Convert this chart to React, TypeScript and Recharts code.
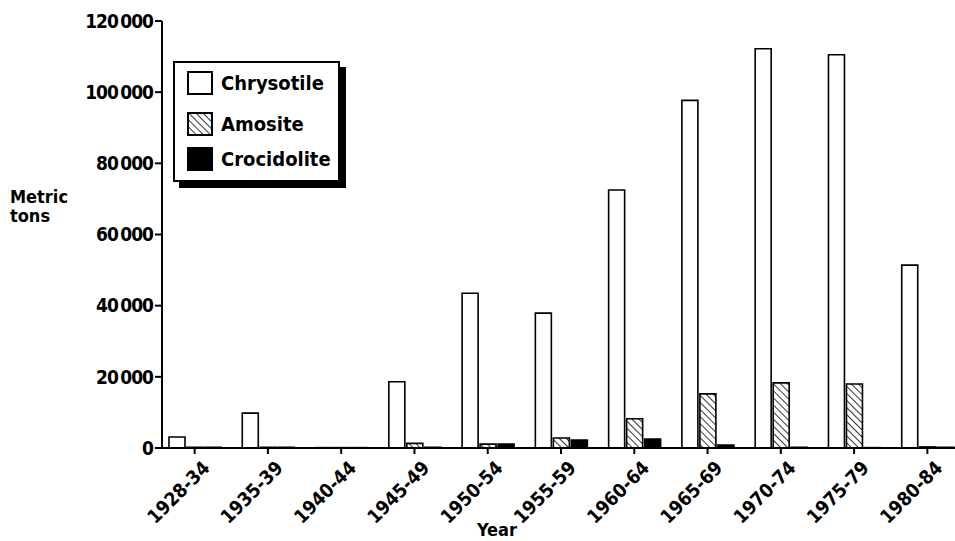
import React from 'react';
import { BarChart, Bar, XAxis, YAxis } from 'recharts';

const PERIODS = [
  '1928-34', '1935-39', '1940-44', '1945-49', '1950-54', '1955-59',
  '1960-64', '1965-69', '1970-74', '1975-79', '1980-84',
];
const CHRYSOTILE = [3100, 9800, 100, 18600, 43500, 37900, 72500, 97700, 112200, 110500, 51400];
const AMOSITE = [200, 200, 100, 1300, 1100, 2800, 8200, 15200, 18300, 18000, 300];
const CROCIDOLITE = [200, 200, 100, 200, 1100, 2200, 2500, 800, 200, 100, 200];
const Y_TICKS = [0, 20000, 40000, 60000, 80000, 100000, 120000];

const SERIES = [
  { key: 'chrysotile', name: 'Chrysotile', fill: '#fff' },
  { key: 'amosite', name: 'Amosite', fill: 'url(#hatch)' },
  { key: 'crocidolite', name: 'Crocidolite', fill: '#000' },
];

const data = PERIODS.map((period, i) => ({
  period,
  chrysotile: CHRYSOTILE[i],
  amosite: AMOSITE[i],
  crocidolite: CROCIDOLITE[i],
}));

const FONT = '"DejaVu Sans Condensed", "DejaVu Sans", sans-serif';

const fmt = (v: number) => {
  if (v === 0) return '0';
  const s = String(v);
  return s.slice(0, -3) + '\u2009' + s.slice(-3);
};

const XTick = (props: any) => {
  const { x, y, payload } = props;
  return (
    <g transform={`translate(${x + 7},${y + 4})`}>
      <text
        textAnchor="end"
        transform="rotate(-45)"
        fontFamily={FONT}
        fontWeight="bold"
        fontSize={19}
        fill="#000"
        dy={13}
      >
        {payload.value}
      </text>
    </g>
  );
};

const YLabel = () => (
  <text fontFamily={FONT} fontWeight="bold" fontSize={18} fill="#000">
    <tspan x={10} y={203}>Metric</tspan>
    <tspan x={10} y={222}>tons</tspan>
  </text>
);

const XLabel = () => (
  <text x={497} y={536} textAnchor="middle" fontFamily={FONT} fontWeight="bold" fontSize={18} fill="#000">
    Year
  </text>
);

const Swatch = ({ kind }: { kind: string }) => (
  <svg width={26} height={24} style={{ display: 'block' }}>
    <defs>
      <pattern id={`lh-${kind}`} patternUnits="userSpaceOnUse" width={5} height={5} patternTransform="rotate(-45)">
        <line x1={0} y1={0} x2={0} y2={5} stroke="#000" strokeWidth={1.6} />
      </pattern>
    </defs>
    <rect
      x={1}
      y={1}
      width={24}
      height={22}
      stroke="#000"
      strokeWidth={2}
      fill={kind === 'amosite' ? `url(#lh-${kind})` : kind === 'crocidolite' ? '#000' : '#fff'}
    />
  </svg>
);

const LegendBox = () => (
  <div
    style={{
      position: 'absolute',
      left: 173,
      top: 61,
      width: 163,
      height: 117,
      border: '2px solid #000',
      boxShadow: '6px 6px 0 #000',
      background: '#fff',
    }}
  >
    {SERIES.map((s, i) => (
      <div
        key={s.key}
        style={{
          display: 'flex',
          alignItems: 'center',
          position: 'absolute',
          left: 12,
          top: [8, 49, 84][i],
          fontFamily: FONT,
          fontWeight: 'bold',
          fontSize: 20,
          color: '#000',
          whiteSpace: 'nowrap',
        }}
      >
        <Swatch kind={s.key} />
        <span style={{ marginLeft: 8 }}>{s.name}</span>
      </div>
    ))}
  </div>
);

export default function App() {
  return (
    <div style={{ position: 'absolute', left: 0, top: 0, width: 955, height: 541, overflow: 'hidden', background: '#fff' }}>
      <BarChart
        width={964}
        height={541}
        data={data}
        margin={{ top: 21, right: 0, left: 0, bottom: 0 }}
        barSize={16}
        barGap={2}
      >
        <defs>
          <pattern id="hatch" patternUnits="userSpaceOnUse" width={5} height={5} patternTransform="rotate(-45)">
            <rect width={5} height={5} fill="#fff" />
            <line x1={0} y1={0} x2={0} y2={5} stroke="#000" strokeWidth={1.6} />
          </pattern>
        </defs>
        <XAxis
          dataKey="period"
          height={93}
          padding={{ left: -4, right: 0 }}
          axisLine={{ stroke: '#000', strokeWidth: 2 }}
          tickLine={{ stroke: '#000', strokeWidth: 2 }}
          tickSize={6}
          interval={0}
          tick={<XTick />}
          label={<XLabel />}
        />
        <YAxis
          width={162}
          domain={[0, 120000]}
          ticks={Y_TICKS}
          interval={0}
          tickFormatter={fmt}
          axisLine={{ stroke: '#000', strokeWidth: 2 }}
          tickLine={{ stroke: '#000', strokeWidth: 2 }}
          tickSize={7}
          tickMargin={2}
          tick={{ fontFamily: FONT, fontWeight: 'bold', fontSize: 19, fill: '#000', letterSpacing: -1 }}
          label={<YLabel />}
        />
        {SERIES.map((s) => (
          <Bar
            key={s.key}
            dataKey={s.key}
            name={s.name}
            fill={s.fill}
            stroke="#000"
            strokeWidth={1.6}
            isAnimationActive={false}
          />
        ))}
      </BarChart>
      <LegendBox />
    </div>
  );
}
